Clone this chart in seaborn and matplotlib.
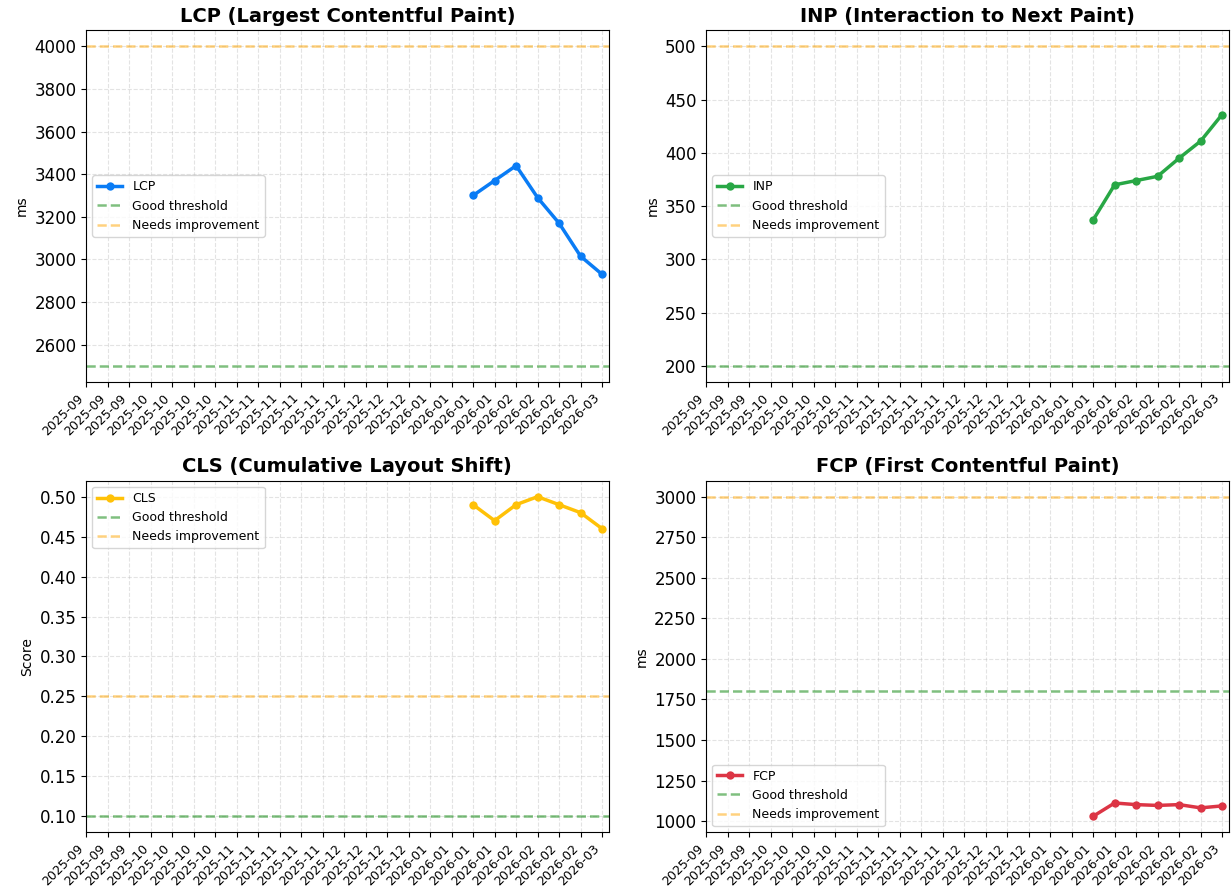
import seaborn as sns
import pandas as pd
import matplotlib.pyplot as plt
import numpy as np

# weekly buckets shown on the x axis
weeks = pd.date_range("2025-09-14", "2026-03-01", freq="7D")
week_labels = [d.strftime("%Y-%m") for d in weeks]

# only the last 7 weeks have data
data_weeks = list(range(18, 25))

lcp = [3300, 3370, 3440, 3290, 3170, 3015, 2930]
inp = [337, 370, 374, 378, 395, 411, 436]
cls = [0.49, 0.47, 0.49, 0.50, 0.49, 0.48, 0.46]
fcp = [1030, 1112, 1102, 1097, 1102, 1082, 1094]

metrics = [
    ("LCP", "LCP (Largest Contentful Paint)", lcp, "ms", 2500, 4000, "#0a7cf5", "center left"),
    ("INP", "INP (Interaction to Next Paint)", inp, "ms", 200, 500, "#28a745", "center left"),
    ("CLS", "CLS (Cumulative Layout Shift)", cls, "Score", 0.1, 0.25, "#ffc107", "upper left"),
    ("FCP", "FCP (First Contentful Paint)", fcp, "ms", 1800, 3000, "#dc3545", "lower left"),
]

fig, axes = plt.subplots(2, 2, figsize=(12.31, 8.93), dpi=100)
plt.subplots_adjust(left=0.070, right=0.998, top=0.966, bottom=0.068,
                    wspace=0.187, hspace=0.281)

for ax, (name, title, vals, unit, good, needs, color, loc) in zip(axes.flat, metrics):
    df = pd.DataFrame({"week": data_weeks, "value": vals})
    sns.lineplot(data=df, x="week", y="value", ax=ax, color=color, marker="o",
                 markersize=6, markeredgewidth=0, linewidth=2.5, label=name)
    ax.axhline(good, color="green", linestyle="--", alpha=0.5, linewidth=1.8,
               label="Good threshold")
    ax.axhline(needs, color="orange", linestyle="--", alpha=0.5, linewidth=1.8,
               label="Needs improvement")
    ax.set_title(title, fontsize=14, fontweight="bold")
    ax.set_xlabel("")
    ax.set_ylabel(unit, fontsize=10)
    ax.set_xticks(range(len(week_labels)))
    ax.set_xticklabels(week_labels, rotation=45, ha="right", fontsize=9)
    ax.tick_params(axis="y", labelsize=12)
    ax.grid(True, linestyle="--", alpha=0.35)
    ax.legend(loc=loc, fontsize=9)

plt.savefig("out.png", dpi=100)
